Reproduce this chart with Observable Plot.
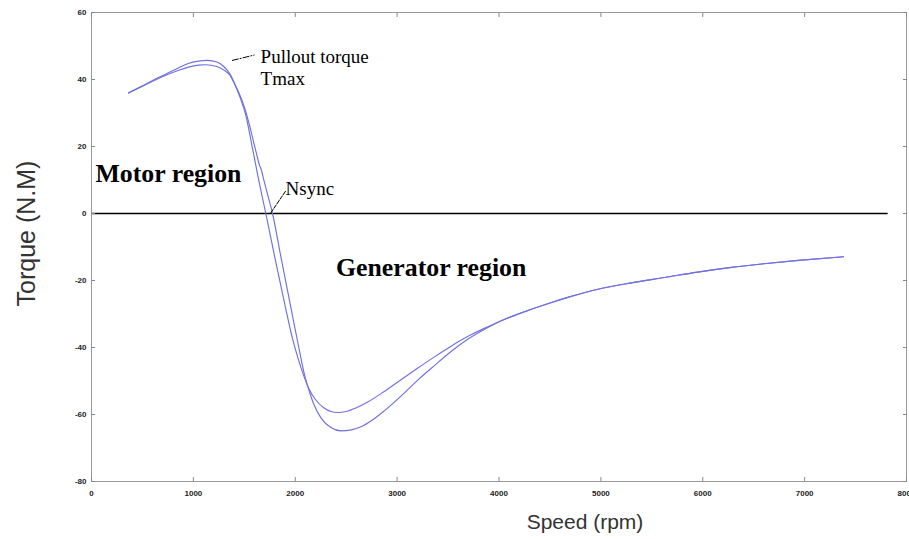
<!DOCTYPE html>
<html><head><meta charset="utf-8">
<script src="https://cdn.jsdelivr.net/npm/d3@7"></script>
<script src="https://cdn.jsdelivr.net/npm/@observablehq/plot@0.6"></script>
<style>body{margin:0;background:#fff;}</style>
</head><body><div id="chart"></div>
<script>
// Torque–speed curve samples [speed rpm, torque N.M]
const curveA = [
  [364,36.0],[500,38.1],[600,39.7],[700,41.2],[843,43.3],[950,44.8],[1050,45.5],[1138,45.7],
  [1230,45.2],[1300,43.8],[1360,41.6],[1399,39.2],[1460,34.5],[1514,29.4],[1580,19.5],
  [1640,10.2],[1711,0],[1800,-13.2],[1900,-27.5],[1970,-37],[2035,-44],[2090,-49],[2134,-52.3],
  [2200,-55.6],[2280,-58],[2350,-59.1],[2416,-59.4],[2500,-59.1],[2600,-58],[2711,-56.3],
  [2870,-53.2],[3038,-49.6],[3200,-46.2],[3366,-42.8],[3530,-39.6],[3700,-36.6],[3891,-33.8],
  [4022,-32],[4317,-28.6],[4500,-26.7],[4700,-24.8],[4972,-22.6],[5300,-20.7],[5627,-19.1],
  [5950,-17.5],[6283,-16.1],[6600,-15.0],[6939,-14.0],[7382,-12.9]
];
const curveB = [
  [364,36.0],[500,38.0],[600,39.5],[700,40.9],[843,42.6],[950,43.7],[1050,44.3],[1121,44.4],
  [1230,43.9],[1300,42.8],[1360,41.2],[1399,39.0],[1450,35.8],[1500,31.8],[1547,26.8],
  [1590,21.5],[1622,17.6],[1648,14.5],[1665,13.2],[1690,10.2],[1730,5.5],[1777,0],
  [1850,-11.5],[1950,-27],[2035,-40],[2090,-48],[2134,-52.7],[2180,-56.8],[2252,-61],
  [2350,-63.9],[2449,-64.9],[2550,-64.6],[2650,-63.6],[2750,-61.8],[2870,-59],[3038,-54.5],
  [3200,-49.8],[3366,-45.4],[3530,-41.2],[3700,-37.4],[3891,-34],[4022,-32],[4317,-28.6],
  [4500,-26.7],[4700,-24.8],[4972,-22.6],[5300,-20.7],[5627,-19.1],[5950,-17.5],[6283,-16.1],
  [6600,-15.0],[6939,-14.0],[7382,-12.9]
];
const zeroLineSpan = [0, 7820];
const xTicks = [0,1000,2000,3000,4000,5000,6000,7000,8000];
const yTicks = [-80,-60,-40,-20,0,20,40,60];
const xDomain = [0, 8000];
const yDomain = [-80, 60];

const regionLabels = [
  {label: "Motor region", x: 39, y: 11.9},
  {label: "Generator region", x: 2400, y: -16.2}
];
const noteLabels = [
  {label: "Pullout torque", x: 1660, y: 46.6},
  {label: "Tmax", x: 1660, y: 40.1},
  {label: "Nsync", x: 1905, y: 7.4}
];
const pulloutLeader = [[1383,45.7],[1597,47.3]];
const nsyncLeader = [[1760,0.2],[1908,6.8]];

const lineColor = "#7070e2";
const serif = "'Liberation Serif', 'Times New Roman', serif";

const plot = Plot.plot({
  width: 909, height: 539,
  marginLeft: 91, marginRight: 3, marginTop: 12, marginBottom: 58,
  x: {domain: xDomain},
  y: {domain: yDomain},
  style: {fontFamily: "'Liberation Sans', Arial, sans-serif", background: "white", overflow: "visible"},
  marks: [
    Plot.ruleY([0], {x1: zeroLineSpan[0], x2: zeroLineSpan[1], stroke: "black", strokeWidth: 1.4}),
    Plot.line(curveA, {x: d => d[0], y: d => d[1], curve: "monotone-x", stroke: lineColor, strokeWidth: 1.15}),
    Plot.line(curveB, {x: d => d[0], y: d => d[1], curve: "monotone-x", stroke: lineColor, strokeWidth: 1.15}),
    Plot.line(pulloutLeader, {x: d => d[0], y: d => d[1], stroke: "black", strokeWidth: 1, strokeDasharray: "6,2,1,2"}),
    Plot.line(nsyncLeader, {x: d => d[0], y: d => d[1], stroke: "black", strokeWidth: 1, strokeDasharray: "4,1.5"}),
    Plot.text(regionLabels, {x: "x", y: "y", text: "label", textAnchor: "start", fontFamily: serif, fontWeight: "bold", fontSize: 25.8, fill: "black"}),
    Plot.text(noteLabels, {x: "x", y: "y", text: "label", textAnchor: "start", fontFamily: serif, fontSize: 19, fill: "black"}),
    Plot.frame({stroke: "#9a9a9a"}),
    Plot.axisX({ticks: xTicks, tickSize: -4, tickPadding: 13, label: null, fontSize: 8, fontWeight: "bold", color: "#222", tickFormat: d => String(d)}),
    Plot.axisX({anchor: "top", ticks: xTicks, tickSize: -4, tickFormat: () => "", label: null, color: "#222"}),
    Plot.axisY({ticks: yTicks, tickSize: -4, tickPadding: 9, label: null, fontSize: 8, fontWeight: "bold", color: "#222", tickFormat: d => String(d)}),
    Plot.axisY({anchor: "right", ticks: yTicks, tickSize: -4, tickFormat: () => "", label: null, color: "#222"}),
    Plot.text(["Speed (rpm)"], {frameAnchor: "bottom", textAnchor: "middle", dx: 86, dy: 47, text: d => d, fontSize: 21, fill: "#333"}),
    Plot.text(["Torque (N.M)"], {frameAnchor: "left", textAnchor: "middle", dx: -65, dy: -13.5, rotate: -90, text: d => d, fontSize: 25, fill: "#333"})
  ]
});
d3.select(plot).selectAll("g[aria-label$='-axis tick'] path").attr("stroke", "#888");
document.getElementById("chart").appendChild(plot);
</script>
</body></html>
